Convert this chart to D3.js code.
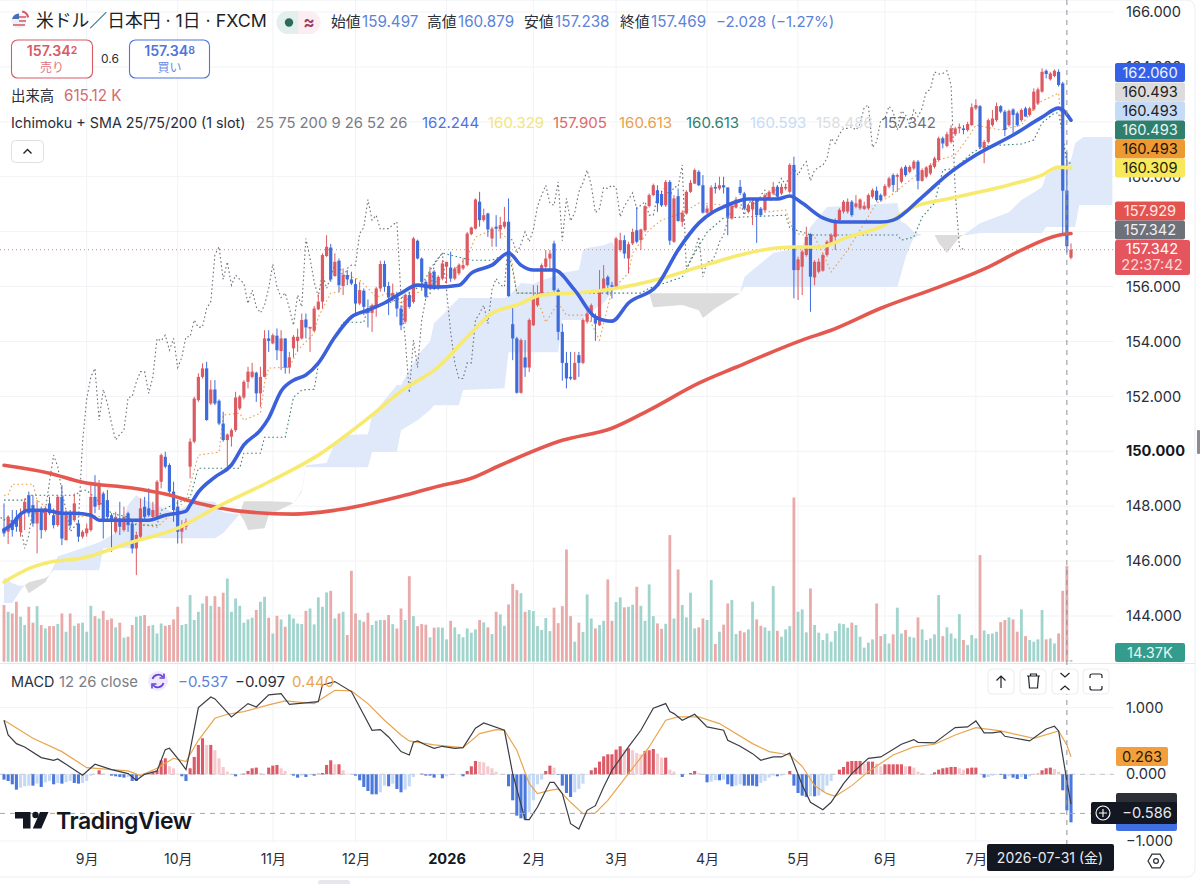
<!DOCTYPE html>
<html lang="ja"><head><meta charset="utf-8">
<script src="https://cdn.jsdelivr.net/npm/d3@7"></script>
<style>
html,body{margin:0;padding:0;background:#fff}
svg{display:block}
text{font-family:Inter,"Noto Sans CJK JP",sans-serif}
</style></head><body><svg id="c" width="1200" height="884"></svg>
<script>
const opens=[147.19,147.07,147.49,147.61,147.07,147.74,148.40,148.04,147.37,147.86,
147.13,148.10,147.67,147.31,148.34,146.76,147.74,147.49,147.37,146.89,
147.01,147.13,148.34,148.04,148.46,148.22,147.67,147.07,147.55,147.13,
147.74,147.37,146.46,146.89,147.98,147.92,147.61,147.61,148.89,149.80,
149.50,148.53,147.98,147.07,147.25,149.44,150.35,151.86,152.71,153.02,
151.74,152.25,151.84,151.01,150.41,150.53,150.77,151.56,151.96,152.53,
152.71,152.86,152.11,152.71,154.11,153.93,154.21,153.65,154.11,153.05,
153.75,154.02,154.11,154.80,154.47,154.39,155.17,155.45,157.11,157.42,
156.38,156.94,156.02,156.42,156.26,156.09,155.38,155.85,155.20,155.04,
155.29,155.93,156.82,156.02,155.57,155.69,155.20,154.72,155.69,155.44,
157.67,157.02,156.17,155.93,156.54,155.99,156.29,156.72,156.69,156.29,
156.48,156.66,156.78,157.91,158.11,159.09,158.42,158.66,157.75,158.18,
158.08,158.18,158.36,154.63,154.11,152.13,153.42,153.05,154.59,155.32,
155.75,156.72,157.02,157.57,155.87,154.35,153.22,152.71,152.61,153.50,
153.22,154.72,155.02,154.84,154.59,155.87,156.35,156.05,155.93,157.33,
157.69,157.02,157.57,158.05,157.69,158.05,158.93,159.33,159.51,159.37,
158.96,159.81,157.63,159.29,158.36,158.66,159.45,159.75,160.18,159.69,
158.69,158.72,159.63,159.57,159.69,159.61,158.48,158.88,159.63,159.39,
158.72,158.81,159.17,158.84,158.78,159.21,159.39,159.63,159.39,159.57,
159.45,160.43,156.60,156.72,157.15,157.91,156.33,156.54,156.58,157.15,
157.57,157.81,158.42,158.73,158.73,159.09,158.91,158.85,158.83,158.85,
159.27,159.49,159.33,159.31,159.64,160.06,160.00,159.82,160.36,160.18,
160.30,160.55,159.85,160.00,160.12,160.36,160.61,161.40,161.12,161.27,
161.55,161.76,161.76,161.70,161.88,162.49,162.57,161.03,161.27,161.88,
162.06,162.57,162.37,161.88,162.45,162.31,162.06,162.49,162.25,162.45,
162.67,163.10,163.86,163.55,163.67,163.82,163.40,159.497,157.05];
const closes=[147.01,147.61,147.13,147.25,147.67,148.16,147.74,147.37,147.86,147.13,
147.92,147.74,147.31,148.34,146.82,147.74,147.31,148.10,146.89,147.07,
147.19,148.34,147.98,148.83,147.43,147.61,147.49,147.61,147.25,147.61,
147.31,146.46,146.95,147.92,147.61,147.67,147.86,148.89,149.86,149.44,
148.53,147.86,147.07,147.25,147.43,150.35,151.92,152.71,153.02,151.14,
152.25,151.74,151.01,150.41,150.61,150.77,151.96,151.99,152.53,152.90,
152.90,152.11,152.71,154.11,154.02,154.23,153.68,154.11,153.05,153.42,
154.17,154.17,154.78,154.51,154.53,155.20,155.45,157.15,157.45,156.26,
156.90,156.05,156.42,156.26,156.11,155.38,155.87,155.26,155.04,155.32,
155.93,156.82,155.99,155.60,155.77,155.20,154.59,155.69,155.26,157.75,
157.02,156.17,155.63,156.50,155.93,156.35,156.84,156.90,156.29,156.66,
156.78,156.78,157.93,158.15,159.17,158.42,158.60,158.08,158.11,158.11,
158.24,158.36,155.65,154.11,152.13,154.05,153.05,154.78,155.56,155.72,
156.78,157.02,157.20,155.87,154.35,153.22,152.65,152.65,153.22,153.22,
154.78,155.02,155.32,154.65,155.89,156.29,156.05,155.99,157.75,157.69,
157.20,157.54,157.99,157.63,158.08,158.93,159.33,159.69,159.03,158.96,
159.81,157.67,159.21,158.39,158.69,159.45,159.78,160.24,159.69,158.69,
158.84,159.61,159.57,159.69,159.61,158.54,158.93,159.17,159.41,158.84,
158.96,159.09,158.60,158.60,159.33,159.45,159.63,159.27,159.63,159.63,
160.43,156.60,156.99,157.27,157.81,156.36,156.90,156.90,157.15,157.63,
157.88,158.42,158.79,159.09,159.09,158.60,159.03,159.17,158.93,159.33,
159.51,159.15,159.15,159.66,159.94,159.70,160.06,160.30,160.06,160.36,
160.55,159.85,160.24,160.34,160.42,160.67,161.40,161.21,161.55,161.76,
161.76,161.82,161.70,161.92,162.53,162.61,161.07,161.27,162.06,162.12,
162.57,162.37,161.70,162.40,162.25,161.88,162.43,162.19,162.49,163.10,
163.18,163.82,163.74,163.76,163.86,163.34,159.49,157.469,157.342];
const highs=[148.10,147.67,147.86,147.86,147.92,148.28,148.53,148.40,148.22,147.98,
147.98,148.34,147.92,148.40,148.77,147.86,147.86,148.46,147.49,147.13,
147.37,148.89,149.13,148.95,148.53,148.59,147.74,147.80,148.16,147.98,
147.80,147.43,147.07,148.28,148.34,148.65,148.16,148.95,149.92,149.98,
149.56,148.89,148.22,147.49,147.55,150.47,151.99,152.84,153.20,153.26,
152.59,152.59,151.89,151.44,150.65,150.83,152.17,152.05,152.59,153.08,
153.22,152.90,153.08,154.41,154.41,154.29,154.47,154.41,154.11,153.62,
154.23,154.47,155.02,155.02,154.53,155.29,155.72,157.21,157.87,157.55,
157.21,157.02,156.66,156.60,156.54,156.29,156.17,155.93,155.53,155.38,
155.99,156.94,156.94,156.17,156.11,155.81,155.32,155.75,155.81,157.81,
157.71,157.06,156.23,156.72,156.60,156.41,156.96,156.90,157.27,156.72,
156.84,157.02,157.99,158.18,159.21,159.45,158.84,158.69,158.18,158.60,
158.54,158.90,159.21,155.32,154.17,154.11,154.05,154.84,156.05,156.05,
156.84,157.33,157.33,157.67,155.93,154.65,153.62,153.62,153.62,153.62,
154.84,155.20,155.38,155.02,156.60,156.78,156.41,156.17,157.81,157.96,
157.87,157.63,158.11,158.90,158.11,158.96,159.39,159.75,159.69,159.49,
159.88,159.88,159.33,159.57,158.78,159.51,159.88,160.30,160.24,160.06,
158.96,159.69,159.78,160.00,160.00,159.61,159.03,159.27,159.88,159.45,
159.03,159.15,159.21,158.90,159.39,159.51,159.81,159.69,159.75,159.75,
160.49,160.73,157.09,157.33,158.18,157.94,156.96,157.02,157.21,157.69,
157.94,158.48,158.85,159.15,159.21,159.15,159.33,159.21,159.09,159.39,
159.57,159.64,159.39,159.73,160.00,160.12,160.12,160.36,160.42,160.42,
160.61,160.61,160.30,160.39,160.49,160.73,161.46,161.46,161.64,161.88,
161.82,161.94,161.88,162.00,162.67,162.82,162.61,161.34,162.12,162.43,
162.70,162.61,162.43,162.45,162.49,162.37,162.49,162.55,162.55,163.22,
163.25,163.95,163.91,163.82,163.91,163.91,163.46,160.879,157.57];
const lows=[146.89,146.62,146.89,147.07,146.89,147.13,147.61,147.25,146.28,146.82,
147.07,147.67,147.19,147.25,146.58,146.76,147.19,147.43,146.70,146.82,
146.89,147.07,147.74,147.86,146.82,147.49,146.34,147.01,146.95,147.07,
147.07,146.28,145.49,146.82,147.49,147.61,147.49,147.55,148.65,149.38,
148.46,147.43,146.64,146.64,147.13,149.01,150.29,151.80,152.65,151.11,
151.68,151.68,150.95,150.35,149.44,150.17,150.71,151.50,151.89,152.29,
152.65,151.80,151.62,152.69,153.62,153.90,153.32,152.96,152.83,152.83,
153.42,153.62,154.07,154.11,153.62,154.35,155.14,155.20,157.08,156.17,
156.36,155.81,155.69,156.05,156.05,154.96,155.32,154.96,154.51,154.35,
154.90,155.81,155.81,154.96,155.45,154.90,154.41,154.65,155.20,155.38,
156.99,155.87,155.57,155.87,155.87,155.87,156.23,156.11,156.17,156.23,
156.41,156.60,156.74,157.87,158.08,158.18,158.36,157.81,157.45,157.45,
157.75,158.11,155.63,153.32,152.10,152.10,152.71,152.89,154.56,155.26,
155.69,156.66,156.60,155.81,154.05,152.57,152.29,152.59,152.59,152.71,
153.17,154.65,154.72,154.02,154.56,155.81,155.69,155.56,155.89,157.27,
157.02,156.48,157.51,157.57,157.33,157.99,158.88,159.29,158.72,158.90,
158.90,157.51,157.59,158.36,158.18,158.62,159.41,159.73,159.66,158.66,
158.64,158.69,159.39,159.51,159.39,157.87,158.44,158.84,159.33,158.78,
158.66,158.24,157.59,158.54,158.72,159.15,159.33,159.21,159.33,159.51,
159.39,155.57,155.51,155.69,157.09,155.08,156.05,156.48,156.54,157.09,
157.51,157.33,158.36,158.66,158.66,158.54,158.85,158.79,158.79,158.79,
159.21,159.09,159.09,159.25,159.58,159.45,159.45,159.76,160.00,160.12,
160.24,159.54,159.82,159.94,160.06,160.30,160.55,161.03,161.07,161.21,
161.48,161.58,161.55,161.64,161.85,162.43,161.03,160.49,161.21,161.82,
162.00,162.31,161.48,161.82,161.58,161.82,162.00,162.19,162.19,162.40,
162.61,163.06,163.58,163.50,163.62,163.28,157.87,157.238,156.99];
const volumesK=[363,320,309,384,288,235,352,250,356,235,
213,228,228,241,309,192,309,230,245,250,
192,358,292,277,326,267,277,220,250,154,
160,235,288,294,299,230,235,181,245,230,
235,271,352,235,241,427,267,320,373,420,
358,420,352,442,533,320,405,358,250,271,
282,331,384,416,282,181,294,271,224,303,
277,245,241,326,341,239,412,352,444,454,
277,309,320,171,582,309,267,256,314,235,
262,267,267,299,241,213,341,267,548,292,
228,241,237,156,218,220,218,143,262,220,
177,156,213,186,207,267,252,220,177,320,
303,230,367,499,459,439,320,331,324,228,
203,279,196,346,247,356,719,292,128,250,
190,431,277,213,235,262,527,262,382,412,
348,352,365,480,358,262,495,292,245,211,
243,811,277,591,363,284,442,213,220,277,
267,523,113,192,237,373,395,177,198,188,
207,384,271,230,220,198,484,198,160,207,
228,1052,320,335,188,469,235,186,139,181,
128,196,245,241,218,250,235,160,90,122,
143,373,164,177,117,175,346,181,203,160,
154,284,207,139,149,175,427,164,220,181,
149,305,139,107,171,149,683,200,177,181,
192,254,267,284,271,192,335,164,139,128,
143,331,143,149,117,181,454,615,11];
const macdHist=[-.08,-.10,-.15,-.23,-.20,-.18,-.17,-.17,-.14,-.19,
-.12,-.10,-.15,-.13,-.14,-.12,-.10,-.13,-.14,-.13,
-.10,-.02,0,.06,.01,0,-.02,-.03,-.04,-.05,
-.04,-.10,-.10,-.04,.01,.02,.04,.06,.21,.24,
.12,.09,.01,-.03,-.10,.09,.26,.44,.54,.44,
.44,.36,.24,.11,.04,0,-.03,0,.01,.05,
.09,.10,.02,0,.10,.13,.14,.09,.05,0,
-.02,-.05,-.02,-.04,-.01,-.02,.01,.02,.14,.21,
.15,.15,.06,.01,0,-.02,-.09,-.19,-.25,-.30,
-.30,-.27,-.17,-.18,-.14,-.22,-.27,-.23,-.18,-.04,
0,.01,-.02,-.02,-.05,-.01,-.06,-.03,-.01,0,
0,-.03,.05,.12,.20,.19,.18,.12,.09,.04,
0,0,-.18,-.39,-.62,-.66,-.68,-.57,-.39,-.15,
-.08,.05,.13,.10,-.01,-.17,-.28,-.34,-.27,-.22,
-.14,-.01,.06,.10,.19,.27,.30,.30,.37,.42,
.37,.39,.36,.32,.30,.35,.36,.38,.31,.25,
.25,.07,.04,0,-.04,0,.02,.05,.02,0,
-.12,-.11,-.09,-.09,-.08,-.15,-.18,-.17,-.15,-.17,
-.17,-.17,-.18,-.13,-.10,-.05,-.02,-.03,-.02,0,
.05,-.17,-.28,-.32,-.34,-.33,-.33,-.32,-.27,-.17,
-.10,0,.07,.11,.19,.20,.20,.20,.16,.19,
.19,.16,.12,.15,.15,.15,.15,.15,.12,.12,
.10,.04,.02,0,0,.03,.07,.09,.10,.11,
.11,.09,.07,.09,.10,.10,0,-.05,-.04,-.02,
-.01,-.01,-.07,-.03,-.05,-.07,-.04,-.07,-.03,0,
.01,.06,.09,.10,.08,.04,-.24,-.54,-.72];
// [bar, price] readings
const sma25=[[0,147.13],[2,147.35],[4,147.71],[6,147.85],[10,147.85],[14,147.74],[17,147.74],[21,147.67],[23,147.49],[27,147.49],[30,147.49],[35,147.49],[39,147.67],[44,147.82],[45,148.04],[47,148.51],[51,149.06],[55,149.50],[58,150.23],[62,150.77],[64,151.21],[67,152.19],[70,152.59],[73,152.78],[76,153.21],[80,154.16],[84,154.89],[88,155.14],[92,155.40],[96,155.76],[100,156.05],[104,155.98],[110,156.05],[113,156.49],[118,156.78],[122,157.22],[125,156.78],[128,156.60],[133,156.60],[138,155.87],[143,154.89],[147,154.74],[151,155.40],[158,156.05],[163,157.33],[168,158.31],[175,158.97],[180,159.19],[187,159.19],[190,159.30],[193,159.04],[198,158.50],[202,158.35],[212,158.35],[215,158.42],[222,159.26],[228,160.06],[235,160.79],[244,161.52],[251,162.17],[255,162.50],[256,162.43],[258,162.06]];
const sma75=[[0,145.24],[7,145.79],[11,145.96],[19,146.11],[30,146.65],[42,147.20],[51,147.93],[64,148.88],[76,149.86],[89,151.32],[96,152.19],[105,153.07],[112,154.16],[118,155.03],[124,155.33],[130,155.69],[141,155.80],[152,156.05],[160,156.34],[168,156.71],[176,157.07],[185,157.37],[191,157.44],[197,157.44],[204,157.80],[212,158.17],[220,158.90],[229,159.22],[243,159.70],[251,160.06],[255,160.35],[258,160.31]];
const sma200=[[0,149.49],[11,149.20],[19,148.87],[31,148.66],[39,148.44],[47,148.11],[57,147.82],[70,147.71],[80,147.85],[96,148.36],[105,148.73],[113,149.02],[120,149.49],[135,150.40],[147,150.84],[156,151.50],[168,152.48],[177,153.06],[193,154.05],[200,154.41],[212,155.21],[226,155.98],[238,156.71],[246,157.33],[255,157.87],[258,157.93]];
const tenkan=[[0,148.40],[1,148.40],[2,148.80],[7,148.80],[8,148.22],[14,147.49],[21,147.67],[28,147.49],[37,147.23],[44,148.22],[47,149.86],[52,149.97],[53,151.32],[57,151.39],[58,151.13],[62,151.39],[63,152.48],[64,153.03],[69,153.06],[71,153.68],[75,154.30],[76,154.89],[79,155.76],[81,155.80],[83,156.42],[86,156.24],[90,155.62],[93,155.76],[96,155.40],[101,155.87],[104,156.13],[108,156.49],[112,157.07],[114,157.80],[119,158.13],[122,157.69],[124,155.76],[128,155.76],[130,155.14],[131,154.70],[134,155.40],[136,154.96],[141,154.96],[144,154.05],[147,155.87],[151,156.49],[152,157.22],[156,158.06],[159,158.42],[164,158.68],[168,159.04],[174,158.97],[184,158.71],[189,158.79],[191,157.95],[196,157.80],[198,157.22],[200,156.53],[204,157.33],[207,158.06],[211,159.04],[214,159.26],[220,159.99],[226,160.61],[230,160.79],[233,161.41],[235,161.88],[241,161.70],[246,161.88],[250,162.68],[255,163.05],[256,161.34],[257,160.49],[258,160.49]];
const kijun=[[0,148.22],[5,148.22],[6,148.40],[17,148.40],[19,148.58],[20,148.58],[26,147.74],[30,147.60],[32,147.31],[37,147.31],[38,147.85],[45,148.33],[47,149.38],[57,149.38],[58,149.93],[62,149.93],[63,150.51],[68,150.51],[70,151.97],[72,152.23],[75,152.26],[76,153.14],[82,154.70],[87,154.70],[88,155.25],[93,155.40],[96,155.58],[101,156.05],[104,156.85],[106,157.22],[113,156.96],[118,156.96],[122,157.22],[123,156.60],[124,155.76],[154,155.76],[156,155.94],[164,156.34],[167,157.22],[170,157.98],[174,158.50],[189,158.60],[190,158.13],[195,157.88],[216,157.88],[217,157.69],[220,157.80],[222,158.53],[225,159.04],[227,160.24],[230,160.31],[234,160.86],[237,161.12],[246,161.19],[249,161.34],[251,161.96],[254,162.32],[255,162.32],[256,161.52],[257,160.54],[258,160.49]];
// cloud readings [bar, senkouA, senkouB]; A below B paints the gray twist
const cloud=[[0,145.41,144.47],[2,145.19,144.47],[4,145.09,144.94],[5,145.12,145.12],[6,144.83,145.23],[10,145.23,145.38],[11,145.49,145.49],[12,145.81,145.67],[13,146.18,145.67],[16,146.32,145.67],[21,146.58,145.67],[23,146.69,145.67],[24,146.76,146.47],[28,147.13,146.47],[30,148.04,146.47],[32,148.40,146.47],[33,148.29,146.83],[41,147.78,146.83],[47,148.22,146.83],[51,148.15,146.83],[53,147.78,147.02],[57,147.71,147.71],[58,147.49,148.18],[59,147.13,148.18],[63,147.20,148.18],[64,147.67,148.18],[69,148.04,148.15],[70,148.11,148.11],[72,148.58,148.51],[73,149.49,149.42],[78,149.57,149.42],[80,150.33,149.42],[82,150.59,149.42],[88,150.62,149.42],[89,151.32,149.97],[95,152.41,149.97],[96,152.41,150.77],[100,153.50,151.13],[103,154.00,151.50],[104,154.67,151.68],[106,154.96,151.68],[110,155.58,151.68],[111,155.58,152.23],[121,155.58,152.30],[122,155.65,153.61],[125,156.13,153.61],[128,156.09,153.61],[130,156.24,153.61],[134,156.40,153.61],[135,156.50,154.78],[139,156.60,154.78],[140,157.33,154.78],[141,157.40,155.03],[145,157.50,155.40],[147,157.62,155.80],[148,157.33,155.98],[149,155.98,155.90],[150,155.76,155.76],[156,155.76,155.76],[157,155.25,155.76],[164,155.33,155.76],[168,155.14,155.76],[169,154.85,155.76],[172,155.21,155.76],[178,155.76,155.76],[179,156.34,155.98],[181,156.60,155.98],[186,157.22,155.98],[193,157.44,155.98],[195,158.17,155.98],[199,158.90,155.98],[216,159.04,155.98],[217,158.35,156.49],[218,158.30,157.07],[220,157.99,157.80],[222,157.88,157.88],[225,157.88,157.88],[226,157.59,157.88],[228,157.22,157.88],[231,157.80,157.88],[232,157.88,157.88],[233,157.99,157.88],[236,158.31,157.95],[243,158.71,157.95],[246,159.15,157.95],[251,159.62,157.95],[252,160.06,158.17],[258,160.61,158.17],[259,161.23,158.17],[260,161.34,158.97],[261,161.45,158.97],[268,161.45,158.97]];
const macdLine=[[0,.81],[1,.59],[3,.46],[5,.41],[9,.25],[12,.21],[13,.23],[15,.15],[19,-.015],[22,.15],[26,.07],[30,.01],[32,-.09],[34,0],[37,.05],[39,.37],[40,.39],[42,.24],[44,.07],[45,.36],[47,1.0],[50,1.16],[51,1.13],[55,.86],[59,1.06],[61,1.01],[64,1.19],[67,1.21],[69,1.05],[76,1.09],[77,1.34],[80,1.39],[84,1.24],[89,.66],[91,.67],[93,.56],[96,.34],[98,.29],[99,.48],[100,.50],[102,.44],[104,.39],[106,.42],[109,.39],[111,.40],[114,.69],[116,.77],[121,.66],[123,.01],[126,-.68],[127,-.68],[129,-.49],[132,-.12],[133,-.12],[135,-.29],[137,-.74],[139,-.82],[141,-.54],[143,-.47],[145,-.19],[147,.06],[151,.41],[154,.66],[157,.99],[160,1.06],[161,.94],[162,.91],[164,.81],[167,.90],[170,.71],[174,.66],[175,.51],[178,.42],[181,.31],[183,.21],[186,.26],[188,.26],[190,.32],[193,-.16],[195,-.42],[198,-.53],[200,-.42],[203,-.14],[205,.01],[209,.24],[212,.26],[217,.45],[220,.52],[221,.48],[225,.47],[228,.61],[230,.70],[233,.71],[235,.80],[237,.62],[239,.62],[241,.64],[242,.57],[248,.50],[252,.68],[254,.72],[255,.65],[257,-.097],[258,-.446]];
const macdSignal=[[0,.81],[7,.54],[14,.34],[20,.10],[30,.05],[33,-.02],[37,.09],[41,.24],[44,.19],[47,.51],[51,.84],[54,.90],[58,.94],[64,1.04],[68,1.10],[75,1.06],[80,1.26],[84,1.25],[88,1.06],[92,.81],[96,.59],[98,.50],[104,.44],[111,.40],[115,.61],[119,.67],[121,.66],[124,.36],[127,-.14],[129,-.29],[132,-.24],[134,-.22],[137,-.42],[140,-.59],[143,-.58],[146,-.39],[151,.01],[156,.41],[160,.81],[163,.86],[168,.86],[173,.76],[181,.46],[185,.34],[190,.29],[193,.12],[196,-.17],[199,-.29],[201,-.33],[205,-.17],[209,.04],[215,.29],[220,.41],[225,.45],[230,.59],[235,.70],[241,.65],[249,.54],[255,.65],[257,.44],[258,.263]];
const chikouShift=26;
const monthBars=[20,42,65,85,107,128,148,170,192,213,235];
const monthLabels=["9月","10月","11月","12月","2026","2月","3月","4月","5月","6月","7月"];
const priceGrid=[166,164,162,160,158,156,154,152,150,148,146,144];
const priceTicks=[166,164,160,156,154,152,150,148,146,144];
const macdTicks=[1,0,-1];
const lastPrice=157.342, hoverBar=257, hoverMacd=-0.586;

const UP="#dc5a62",DOWN="#3f6cdc";
const svg=d3.select("#c");
const x=d3.scaleLinear([0,258],[4,1071]);
const y=d3.scaleLinear([144,166],[616,12]);
const vy=d3.scaleLinear([0,1052],[661.7,497.5]);
const my=d3.scaleLinear([-1,1],[841,707.6]);
const plotW=1114;

svg.append("defs").append("clipPath").attr("id","main").append("rect").attr("x",0).attr("y",0).attr("width",plotW).attr("height",662);

// frame
svg.append("rect").attr("x",-6).attr("y",0).attr("width",1201).attr("height",877).attr("rx",8).attr("fill","#fff").attr("stroke","#eceef1");
svg.append("rect").attr("x",318).attr("y",880).attr("width",32).attr("height",6).attr("rx",3).attr("fill","#e6e7ea");
svg.append("rect").attr("x",1197).attr("y",430).attr("width",3).attr("height",24).attr("rx",1).attr("fill","#8a8c92");

// grid
const grid=svg.append("g").attr("stroke","#f2f3f6").attr("stroke-width",1);
grid.selectAll(".h").data(priceGrid).join("line").attr("x1",0).attr("x2",plotW).attr("y1",d=>y(d)).attr("y2",d=>y(d));
grid.selectAll(".m").data(macdTicks).join("line").attr("x1",0).attr("x2",plotW).attr("y1",d=>my(d)).attr("y2",d=>my(d));
grid.selectAll(".v").data(monthBars).join("line").attr("x1",d=>x(d)).attr("x2",d=>x(d)).attr("y1",0).attr("y2",842);

const pane=svg.append("g").attr("clip-path","url(#main)");
// cloud
const cloudArea=d3.area().x(d=>x(d[0])).y0(d=>y(d[1])).y1(d=>y(d[2]));
pane.append("path").attr("fill","#dfe9f9").attr("d",cloudArea.defined(d=>d[1]>=d[2])(cloud));
pane.append("path").attr("fill","#dcdcdd").attr("d",cloudArea.defined(d=>d[1]<=d[2])(cloud));

// volume
const isUp=i=>closes[i]>=opens[i];
pane.selectAll(".vol").data(volumesK).join("rect")
 .attr("x",(d,i)=>x(i)-1.4).attr("width",2.8).attr("y",d=>vy(d)).attr("height",d=>vy(0)-vy(d))
 .attr("fill",(d,i)=>isUp(i)?"#a0d4cc":"#e9aaa9");

// price line
pane.append("line").attr("x1",0).attr("x2",plotW).attr("y1",y(lastPrice)).attr("y2",y(lastPrice))
 .attr("stroke","#d98a8a").attr("stroke-width",1).attr("stroke-dasharray","1 3");

// ichimoku dotted lines
const line=d3.line().x(d=>x(d[0])).y(d=>y(d[1]));
const dotted=(data,col)=>pane.append("path").attr("d",line(data)).attr("fill","none").attr("stroke",col).attr("stroke-width",1.1).attr("stroke-dasharray","1.6 2.6");
dotted(closes.map((c,i)=>[i-chikouShift,c]),"#6f7278");
dotted(tenkan,"#e9a04c");
dotted(kijun,"#3e8276");

// candles
const cg=pane.append("g");
cg.selectAll(".w").data(closes).join("line")
 .attr("x1",(d,i)=>x(i)).attr("x2",(d,i)=>x(i)).attr("y1",(d,i)=>y(highs[i])).attr("y2",(d,i)=>y(lows[i]))
 .attr("stroke",(d,i)=>isUp(i)?UP:DOWN).attr("stroke-width",1);
cg.selectAll(".b").data(closes).join("rect")
 .attr("x",(d,i)=>x(i)-1.6).attr("width",3.2)
 .attr("y",(d,i)=>y(Math.max(opens[i],d))).attr("height",(d,i)=>Math.max(1,Math.abs(y(opens[i])-y(d))))
 .attr("fill",(d,i)=>isUp(i)?UP:DOWN);

// SMA
const smooth=d3.line().x(d=>x(d[0])).y(d=>y(d[1])).curve(d3.curveMonotoneX);
const sma=(data,col)=>pane.append("path").attr("d",smooth(data)).attr("fill","none").attr("stroke",col).attr("stroke-width",3.6).attr("stroke-linejoin","round").attr("stroke-linecap","round");
sma(sma200,"#e5584f");
sma(sma75,"#f8ea6e");
sma(sma25,"#3a60dc");

// price axis
const axisStyle=g=>{g.select(".domain").remove();g.selectAll("text").attr("fill","#2a2e39").attr("font-size",14.6).style("font-family","Inter");};
const fmt=d3.format(".3f");
const minus=s=>s.replace("-","−");
svg.append("g").attr("transform",`translate(${plotW},0)`)
 .call(d3.axisRight(y).tickValues(priceTicks).tickFormat(fmt).tickSize(0).tickPadding(12)).call(axisStyle)
 .call(g=>g.selectAll("text").filter(d=>d===150).attr("font-weight",700).attr("fill","#131722"));

// MACD pane
svg.append("line").attr("x1",0).attr("x2",1195).attr("y1",663.5).attr("y2",663.5).attr("stroke","#e6e7ea");
svg.append("line").attr("x1",0).attr("x2",plotW).attr("y1",my(0)).attr("y2",my(0)).attr("stroke","#c4c6cb").attr("stroke-dasharray","5 5");
svg.selectAll(".hist").data(macdHist).join("rect")
 .attr("x",(d,i)=>x(i)-1.55).attr("width",3.1)
 .attr("y",d=>Math.min(my(d),my(0))).attr("height",d=>Math.abs(my(d)-my(0)))
 .attr("fill",(d,i)=>{const p=i?macdHist[i-1]:d;
   return d>=0?(d>=p?"#dc5a66":"#f6c9cf"):(d<=p?"#4b78dd":"#c5d9f5");});
const mline=d3.line().x(d=>x(d[0])).y(d=>my(d[1]));
svg.append("path").attr("d",mline(macdSignal)).attr("fill","none").attr("stroke","#e9a54e").attr("stroke-width",1.2);
svg.append("path").attr("d",mline(macdLine)).attr("fill","none").attr("stroke","#3a3d45").attr("stroke-width",1.2);
svg.append("g").attr("transform",`translate(${plotW},0)`)
 .call(d3.axisRight(my).tickValues(macdTicks).tickFormat(d=>minus(fmt(d))).tickSize(0).tickPadding(12)).call(axisStyle);

// month axis
const xAxis=d3.axisBottom(x).tickValues(monthBars).tickFormat((d,i)=>monthLabels[i]).tickSize(0).tickPadding(0);
svg.append("g").attr("transform","translate(0,854)").call(xAxis)
 .call(g=>{g.select(".domain").remove();g.selectAll("text").attr("fill","#2a2e39").attr("font-size",14).style("font-family",'Inter,"Noto Sans CJK JP"')
   .filter(d=>d===107).attr("font-weight",700).attr("fill","#131722").attr("font-size",14.6);});

// crosshair
svg.append("line").attr("x1",x(hoverBar)).attr("x2",x(hoverBar)).attr("y1",0).attr("y2",844).attr("stroke","#8f9197").attr("stroke-dasharray","5 5");
svg.append("line").attr("x1",0).attr("x2",1092).attr("y1",my(hoverMacd)).attr("y2",my(hoverMacd)).attr("stroke","#a3a5aa").attr("stroke-dasharray","5 5");

// helpers
const T=(s,xx,yy,o={})=>{const t=svg.append("text").attr("x",xx).attr("y",yy).attr("font-size",o.s||14.6).attr("fill",o.c||"#2a2e39").text(s);
  if(o.a)t.attr("text-anchor",o.a);if(o.w)t.attr("font-weight",o.w);return t;};
const tag=(s,yc,bg,fg,x1=1115,w=70)=>{svg.append("rect").attr("x",x1).attr("y",yc-9.5).attr("width",w).attr("height",19).attr("rx",2).attr("fill",bg);
  T(s,x1+w/2,yc+5,{c:fg,a:"middle",s:14.6});};

// price tags
tag("162.060",72.5,"#3460e8","#eef2ff");
tag("160.493",92,"#dcdcdc","#222");
tag("160.493",111,"#c6dbf6","#222");
tag("160.493",130,"#2f7f6e","#e8f5f1");
tag("160.493",149,"#ee9a34","#221508");
tag("160.309",168,"#f8e95c","#221f05");
tag("157.929",211,"#e5534f","#fbe9e7");
tag("157.342",230,"#6e717a","#f0f0f2");
svg.append("rect").attr("x",1115).attr("y",240).attr("width",75).attr("height",35).attr("rx",2).attr("fill","#e5555d");
T("157.342",1152,254,{c:"#fff",a:"middle"});
T("22:37:42",1152,270,{c:"#fbdada",a:"middle"});
tag("14.37K",652.5,"#339c8c","#e4f5f1");
tag("0.263",756.5,"#f2a03c","#2a1a05",1116,52);
svg.append("rect").attr("x",1116).attr("y",793).attr("width",61).attr("height",14).attr("rx",2).attr("fill","#2d2f36");
svg.append("rect").attr("x",1116).attr("y",820).attr("width",61).attr("height",11).attr("rx",2).attr("fill","#3f6fe0");
svg.append("rect").attr("x",1091).attr("y",802).attr("width",86).attr("height",22).attr("rx",2).attr("fill","#131722");
svg.append("circle").attr("cx",1103).attr("cy",813).attr("r",7).attr("fill","none").attr("stroke","#fff").attr("stroke-width",1.1);
svg.append("path").attr("d","M1099 813h8M1103 809v8").attr("stroke","#fff").attr("stroke-width",1.1);
T("−0.586",1147,818,{c:"#e8eaee",a:"middle"});
svg.append("rect").attr("x",987).attr("y",844).attr("width",127).attr("height",27).attr("rx",2).attr("fill","#131722");
T("2026-07-31 (金)",1050,863,{c:"#e8eaee",a:"middle",s:14});

// settings hex
svg.append("path").attr("d","M1148 861l4-6.8h8l4 6.8-4 6.8h-8z").attr("fill","none").attr("stroke","#2a2e39").attr("stroke-width",1.2);
svg.append("circle").attr("cx",1156).attr("cy",861).attr("r",2.4).attr("fill","none").attr("stroke","#2a2e39").attr("stroke-width",1.2);

// pane buttons
[988,1020,1052,1083].forEach(bx=>svg.append("rect").attr("x",bx).attr("y",669).attr("width",26).attr("height",25).attr("rx",4).attr("fill","#fff").attr("stroke","#ebecef"));
const icon=d=>svg.append("path").attr("d",d).attr("fill","none").attr("stroke","#1f2229").attr("stroke-width",1.2);
icon("M1001 688v-12M996.5 680.5l4.5-4.5 4.5 4.5");
icon("M1027 676h13M1030.5 676v-2h6v2M1028.5 676l1 12h8l1-12");
icon("M1060.5 673l4.5 4 4.5-4M1060.5 690l4.5-4 4.5 4");
icon("M1090 678v-2a2 2 0 0 1 2-2h8a2 2 0 0 1 2 2v2M1090 686v2a2 2 0 0 0 2 2h8a2 2 0 0 0 2-2v-2");

// header: flag
svg.append("circle").attr("cx",19).attr("cy",21).attr("r",7.5).attr("fill","#eef1f6");
svg.append("path").attr("d","M12 19a7.5 7.5 0 0 1 7-5.5V19z").attr("fill","#4a6fb5");
svg.append("path").attr("d","M13 25h12M19 17h7M19 21h7").attr("stroke","#d9575f").attr("stroke-width",1.6);
svg.append("path").attr("d","M22 11.5a7 7 0 0 1 6 6").attr("stroke","#d9575f").attr("stroke-width",2.2).attr("fill","none");
T("米ドル／日本円 · 1日 · FXCM",36,27,{s:17.8,c:"#1c1f26"});
svg.append("path").attr("d","M288 11h10v23h-10a11.5 11.5 0 0 1 0-23z").attr("fill","#e3efec");
svg.append("path").attr("d","M298 11h11a11.5 11.5 0 0 1 0 23h-11z").attr("fill","#fbeef3");
svg.append("circle").attr("cx",289).attr("cy",22.5).attr("r",4.2).attr("fill","#2c6a5b");
T("≈",309,28,{s:17,c:"#a23a63",a:"middle",w:700});
const blue="#5c83d8";
[["始値",331,"159.497",362],["高値",427,"160.879",458],["安値",524,"157.238",555],["終値",620,"157.469",651]].forEach(r=>{
 T(r[0],r[1],27,{s:14.8,c:"#2a2e39"});T(r[2],r[3],27,{s:15.2,c:blue});});
T("−2.028 (−1.27%)",716,27,{s:15,c:blue});

// bid/ask boxes
const box=(xx,w,col,txt,lbl,sm)=>{svg.append("rect").attr("x",xx).attr("y",40).attr("width",w).attr("height",38).attr("rx",6).attr("fill","#fff").attr("stroke",col).attr("stroke-width",1.1);
 const t=T(txt,xx+w/2,56,{a:"middle",s:14.2,c:col,w:600});t.append("tspan").attr("font-size",10.5).attr("dy",-2).text(sm);
 T(lbl,xx+w/2,71.5,{a:"middle",s:12,c:col}).attr("opacity",.85);};
box(11.5,81,"#d95a64","157.34","売り","2");
box(129.5,80,"#4f74dd","157.34","買い","8");
T("0.6",110,63,{a:"middle",s:12});
T("出来高",11,101,{s:14.4});
T("615.12 K",64,101,{s:15.2,c:"#d46a6e"});

// legend line
T("Ichimoku + SMA 25/75/200 (1 slot)",11,128,{s:14.3});
T("25 75 200 9 26 52 26",256,128,{s:14.8,c:"#7a7d85"});
[["162.244",422,"#4f74dd"],["160.329",488,"#f3e57b"],["157.905",553,"#dc6a6a"],["160.613",619,"#e9a04c"],["160.613",686,"#2f7f6e"],["160.593",750,"#c6dbf6"],["158.486",816,"#dcdde0"],["157.342",882,"#6e717a"]]
 .forEach(r=>T(r[0],r[1],128,{s:15,c:r[2]}));
svg.append("rect").attr("x",11.5).attr("y",140.5).attr("width",32).attr("height",22).attr("rx",4).attr("fill","#fff").attr("stroke","#dedfe3");
icon("M23.5 153.5l4-4 4 4").attr("stroke-width",1.4);

// MACD legend
T("MACD",11,687,{s:14.4});
T("12 26 close",59,687,{s:14.8,c:"#7a7d85"});
svg.append("circle").attr("cx",158).attr("cy",681).attr("r",10).attr("fill","#eee9fb");
svg.append("path").attr("d","M152.5 679a6 6 0 0 1 10.5-2M163.5 683a6 6 0 0 1-10.5 2").attr("fill","none").attr("stroke","#6a42d8").attr("stroke-width",1.8);
svg.append("path").attr("d","M164 673.5v4.5h-4.5M152 688.5v-4.5h4.5").attr("fill","none").attr("stroke","#6a42d8").attr("stroke-width",1.6);
T("−0.537",178,687,{s:15,c:blue});
T("−0.097",235,687,{s:15,c:"#2a2e39"});
T("0.440",292,687,{s:15,c:"#e9a54e"});

// TradingView mark
const logo=svg.append("g").attr("fill","#131722");
logo.append("path").attr("d","M15 812h15.5v16.5h-7.5v-10h-8z");
logo.append("circle").attr("cx",35.5).attr("cy",815).attr("r",3.2);
logo.append("path").attr("d","M40 812h8.5l-7.2 16.5h-8.5z");
T("TradingView",56,829,{s:23,c:"#131722",w:600}).attr("letter-spacing",-.4);
</script></body></html>
